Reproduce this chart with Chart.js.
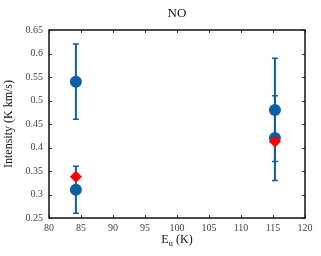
<!DOCTYPE html>
<html><head><meta charset="utf-8">
<script src="https://cdn.jsdelivr.net/npm/chart.js@4"></script>
<style>html,body{margin:0;padding:0;background:#fff}#w{width:321px;height:256px}</style>
</head><body><div id="w"><canvas id="c"></canvas></div>
<script>
const blueX = [84.2, 84.2, 115.3, 115.3];
const blueY = [0.54, 0.31, 0.48, 0.42];
const blueErr = [0.08, 0.05, 0.11, 0.09];
const redX = [84.2, 115.3];
const redY = [0.338, 0.413];
const xTicks = [80, 85, 90, 95, 100, 105, 110, 115, 120];
const yTicks = [0.25, 0.3, 0.35, 0.4, 0.45, 0.5, 0.55, 0.6, 0.65];
const BLUE = '#0b5fa5', RED = '#ff0000';
const FONT = "'Liberation Serif', 'DejaVu Serif', serif";

const blueData = blueX.map((x, i) => ({x, y: blueY[i], e: blueErr[i]}));
const redData = redX.map((x, i) => ({x, y: redY[i]}));

const deco = {
  id: 'deco',
  beforeDatasetsDraw(chart) {
    const {ctx, scales: {x, y}} = chart;
    ctx.save();
    ctx.strokeStyle = BLUE;
    blueData.forEach(p => {
      const px = x.getPixelForValue(p.x);
      const y1 = y.getPixelForValue(p.y + p.e), y2 = y.getPixelForValue(p.y - p.e);
      ctx.lineWidth = 2;
      ctx.beginPath(); ctx.moveTo(px, y1); ctx.lineTo(px, y2); ctx.stroke();
      ctx.lineWidth = 1.5;
      ctx.beginPath(); ctx.moveTo(px - 3, y1); ctx.lineTo(px + 3, y1);
      ctx.moveTo(px - 3, y2); ctx.lineTo(px + 3, y2); ctx.stroke();
    });
    ctx.restore();
  },
  afterDraw(chart) {
    const {ctx, chartArea: a, scales: {x, y}} = chart;
    ctx.save();
    ctx.strokeStyle = '#333';
    ctx.lineWidth = 1;
    ctx.beginPath();
    xTicks.forEach(v => {
      const px = Math.round(x.getPixelForValue(v)) + 0.5;
      ctx.moveTo(px, a.bottom); ctx.lineTo(px, a.bottom - 3);
      ctx.moveTo(px, a.top); ctx.lineTo(px, a.top + 3);
    });
    yTicks.forEach(v => {
      const py = Math.round(y.getPixelForValue(v)) + 0.5;
      ctx.moveTo(a.left, py); ctx.lineTo(a.left + 3, py);
      ctx.moveTo(a.right, py); ctx.lineTo(a.right - 3, py);
    });
    ctx.stroke();
    ctx.strokeStyle = '#111';
    ctx.lineWidth = 1.5;
    ctx.strokeRect(a.left, a.top, a.right - a.left, a.bottom - a.top);
    // title
    ctx.fillStyle = '#111';
    ctx.textAlign = 'center';
    ctx.textBaseline = 'middle';
    ctx.font = '13px ' + FONT;
    ctx.fillText('NO', (a.left + a.right) / 2, 14);
    // x title with subscript
    const cx = (a.left + a.right) / 2;
    ctx.font = '12px ' + FONT;
    const wE = ctx.measureText('E').width;
    const wR = ctx.measureText(' (K)').width;
    ctx.font = '9px ' + FONT;
    const wU = ctx.measureText('u').width;
    const total = wE + wU + wR;
    let sx = cx - total / 2;
    ctx.textAlign = 'left';
    ctx.font = '12px ' + FONT;
    ctx.fillText('E', sx, 240);
    ctx.font = '9px ' + FONT;
    ctx.fillText('u', sx + wE, 244);
    ctx.font = '12px ' + FONT;
    ctx.fillText(' (K)', sx + wE + wU, 240);
    // y title
    ctx.translate(9, (a.top + a.bottom) / 2);
    ctx.rotate(-Math.PI / 2);
    ctx.textAlign = 'center';
    ctx.fillText('Intensity (K km/s)', 0, 0);
    ctx.restore();
  }
};

new Chart(document.getElementById('c'), {
  type: 'scatter',
  data: {
    datasets: [
      {data: redData, order: 0, backgroundColor: RED, borderColor: RED, pointRadius: 6, pointStyle: 'rectRot', borderWidth: 0},
      {data: blueData, order: 1, backgroundColor: BLUE, borderColor: BLUE, pointRadius: 6, pointStyle: 'circle', borderWidth: 0}
    ]
  },
  options: {
    responsive: true, maintainAspectRatio: false, animation: false,
    layout: {padding: {top: 30, right: 16, left: 0, bottom: 0}},
    plugins: {legend: {display: false}, tooltip: {enabled: false}, title: {display: false}},
    scales: {
      x: {
        type: 'linear', min: 80, max: 120,
        afterBuildTicks: s => { s.ticks = xTicks.map(v => ({value: v})); },
        afterFit: s => { s.height = 38; },
        grid: {display: false, drawTicks: false},
        border: {display: false},
        ticks: {color: '#444', font: {family: FONT, size: 10}, padding: 4, maxRotation: 0, autoSkip: false}
      },
      y: {
        type: 'linear', min: 0.25, max: 0.65,
        afterBuildTicks: s => { s.ticks = yTicks.map(v => ({value: v})); },
        afterFit: s => { s.width = 49; },
        grid: {display: false, drawTicks: false},
        border: {display: false},
        ticks: {color: '#444', font: {family: FONT, size: 10}, padding: 6, autoSkip: false,
          callback: v => String(Math.round(v * 100) / 100)}
      }
    }
  },
  plugins: [deco]
});
</script></body></html>
